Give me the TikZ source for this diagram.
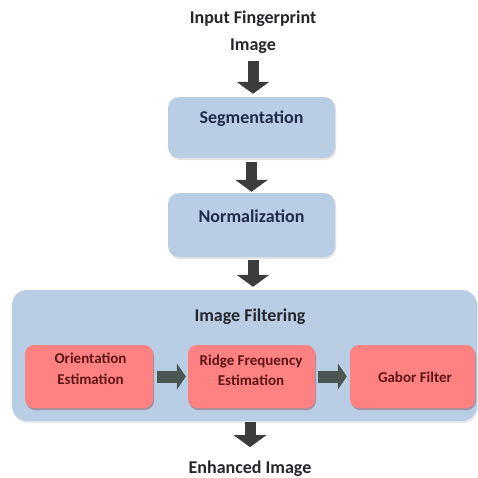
\documentclass[tikz,border=0pt]{standalone}
\usepackage{fontspec}
\setmainfont{Carlito}
\usetikzlibrary{arrows.meta,shadows}
\definecolor{boxblue}{HTML}{B9CDE5}
\definecolor{boxpink}{HTML}{FF8282}
\definecolor{arrowgray}{HTML}{3C3C3C}
\definecolor{harrowgray}{HTML}{4B5652}
\definecolor{navytext}{HTML}{1F2D48}
\definecolor{darktext}{HTML}{24262C}
\definecolor{redtext}{HTML}{5E1515}
\begin{document}
\begin{tikzpicture}[x=1pt,y=-1pt,
  bluebox/.style={fill=boxblue, draw=none, inner sep=0pt, rounded corners=11pt,
    drop shadow={shadow xshift=1pt, shadow yshift=-2pt, opacity=0.22}},
  outerbox/.style={fill=boxblue, draw=none, inner sep=0pt, rounded corners=15pt,
    drop shadow={shadow xshift=1pt, shadow yshift=-2pt, opacity=0.18}},
  pinkbox/.style={fill=boxpink, draw=none, inner sep=0pt, rounded corners=9pt,
    minimum height=63pt,
    drop shadow={shadow xshift=1pt, shadow yshift=-2pt, opacity=0.3, fill=red!50!black}},
  btext/.style={font=\fontsize{18}{21}\selectfont\bfseries, text=navytext, anchor=base, inner sep=0pt},
  dtext/.style={font=\fontsize{18}{21}\selectfont\bfseries, text=darktext, anchor=base, inner sep=0pt},
  rtext/.style={font=\fontsize{15}{18}\selectfont\bfseries, text=redtext, anchor=base, inner sep=0pt},
  varrow/.style={draw=arrowgray, line width=11pt,
    -{Triangle[length=12pt 0 0, width=32pt 0 0]}},
  harrow/.style={draw=harrowgray, line width=12pt,
    -{Triangle[length=9pt 0 0, width=26pt 0 0]}},
]
\useasboundingbox (0,0) rectangle (478,477);

% boxes
\node[bluebox, minimum width=167pt, minimum height=61pt] (seg) at (251.5,127.5) {};
\node[bluebox, minimum width=167pt, minimum height=64pt] (norm) at (251.5,225) {};
\node[outerbox, minimum width=465pt, minimum height=131pt] (filt) at (244.5,355.5) {};
\node[pinkbox, minimum width=128pt] (orient) at (89,376.5) {};
\node[pinkbox, minimum width=127pt] (ridge) at (251.5,376.5) {};
\node[pinkbox, minimum width=125pt] (gabor) at (412.5,376.5) {};

% texts
\node[dtext] (in1) at (253,23) {Input Fingerprint};
\node[dtext] (in2) at (253,50) {Image};
\node[btext] (segt) at (251.5,123) {Segmentation};
\node[btext] (normt) at (251.5,222) {Normalization};
\node[dtext] (filtt) at (250,321) {Image Filtering};
\node[rtext] (or1) at (90.5,363) {Orientation};
\node[rtext] (or2) at (90.5,384) {Estimation};
\node[rtext] (ri1) at (251,365) {Ridge Frequency};
\node[rtext] (ri2) at (251,385) {Estimation};
\node[rtext] (gat) at (415,382) {Gabor Filter};
\node[dtext] (enh) at (250,473) {Enhanced Image};

% connectors
\draw[varrow, shorten <=8pt, shorten >=3pt] (in2.south) -- (in2.south |- seg.north);
\draw[varrow, shorten <=4pt, shorten >=1pt] (seg.south) -- (norm.north);
\draw[varrow, shorten <=3pt, shorten >=3pt] ([xshift=1.5pt]norm.south) -- ([xshift=1.5pt]norm.south |- filt.north);
\draw[varrow, shorten <=1pt, shorten >=13pt] (filt.south -| enh.north) -- (enh.north);
\draw[harrow, shorten <=4pt, shorten >=2pt] (orient.east) -- (ridge.west);
\draw[harrow, shorten <=3pt, shorten >=3pt] (ridge.east) -- (gabor.west);
\end{tikzpicture}
\end{document}
